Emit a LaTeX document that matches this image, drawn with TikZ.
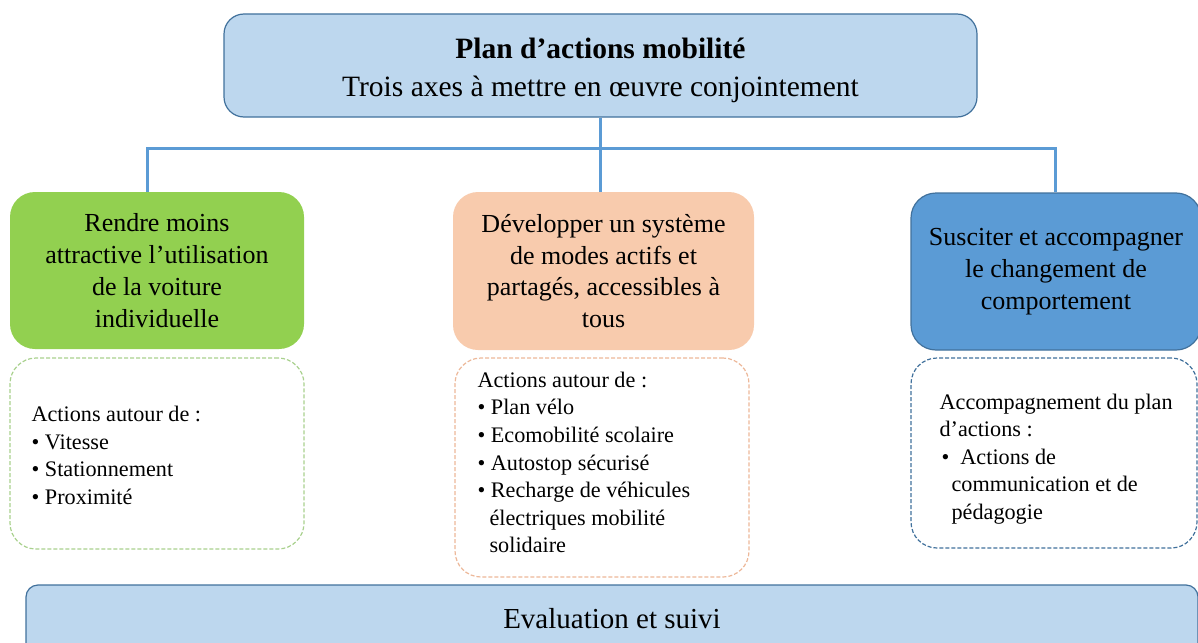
\documentclass[tikz,border=0pt]{standalone}
\usepackage{fontspec}
\setmainfont{Liberation Serif}
\definecolor{lightblue}{HTML}{BDD7EE}
\definecolor{darkblue}{HTML}{41719C}
\definecolor{midblue}{HTML}{5B9BD5}
\definecolor{grn}{HTML}{92D050}
\definecolor{grnline}{HTML}{A9D18E}
\definecolor{peach}{HTML}{F8CBAD}
\definecolor{peachline}{HTML}{EDB899}
\begin{document}
\begin{tikzpicture}[x=1pt,y=-1pt,
  topbox/.style={draw=darkblue, line width=1.2pt, fill=lightblue, rounded corners=20pt, align=center, inner sep=0pt},
  headbox/.style={rounded corners=25pt, align=center, inner sep=0pt, font=\fontsize{26}{31.8}\selectfont},
  dashbox/.style={line width=1.2pt, dash pattern=on 4pt off 2pt, rounded corners=26pt, fill=white, inner sep=0pt},
  listtext/.style={align=left, anchor=west, inner sep=0pt, font=\fontsize{22.2}{27.6}\selectfont},
  conn/.style={draw=midblue, line width=3pt}
]
\clip (0,0) rectangle (1198,642);
% top box
\node[topbox, minimum width=753pt, minimum height=103pt,
  font=\fontsize{29.5}{38}\selectfont] (top) at (600.5,65.5)
  {\rule{0pt}{30pt}\textbf{Plan d’actions mobilité}\\Trois axes à mettre en œuvre conjointement};
% heading boxes
\node[headbox, fill=grn, minimum width=294pt, minimum height=157pt] (g) at (157,270.5)
  {Rendre moins\\attractive l’utilisation\\de la voiture\\individuelle};
\node[headbox, fill=peach, minimum width=301pt, minimum height=158pt] (p) at (603.5,271)
  {Développer un système\\de modes actifs et\\partagés, accessibles à\\tous};
\node[headbox, fill=midblue, draw=darkblue, line width=1.2pt, minimum width=290pt, minimum height=157pt] (b) at (1056,271.5)
  {Susciter et accompagner\\le changement de\\comportement};
% connectors
\coordinate (bus) at (600,148);
\draw[conn] (top.south) -- (top.south |- bus);
\draw[conn] ([xshift=-10pt]g.north) |- (bus) -| ([xshift=-1pt]b.north);
\draw[conn] (bus) -- ([xshift=-3.5pt]p.north);
% dashed boxes
\node[dashbox, draw=grnline, minimum width=294pt, minimum height=191pt] (gd) at (157,453.5) {};
\node[dashbox, draw=peachline, minimum width=294pt, minimum height=219pt] (pd) at (602,467.5) {};
\node[dashbox, draw=darkblue, minimum width=286pt, minimum height=190pt] (bd) at (1054,453) {};
\node[listtext] (gt) at ([xshift=22pt,yshift=-2pt]gd.west)
  {Actions autour de :\\\textbullet\ Vitesse\\\textbullet\ Stationnement\\\textbullet\ Proximité};
\node[listtext] (pt) at ([xshift=23pt,yshift=5pt]pd.west)
  {Actions autour de :\\\textbullet\ Plan vélo\\\textbullet\ Ecomobilité scolaire\\\textbullet\ Autostop sécurisé\\\textbullet\ Recharge de véhicules\\\hspace*{12pt}électriques mobilité\\\hspace*{12pt}solidaire};
\node[listtext] (bt) at ([xshift=29pt,yshift=-6pt]bd.west)
  {Accompagnement du plan\\d’actions :\\\hspace*{2pt}\textbullet\ \ Actions de\\\hspace*{12pt}communication et de\\\hspace*{12pt}pédagogie};
% bottom box
\node[draw=darkblue, line width=1.2pt, fill=lightblue, rounded corners=12pt, inner sep=0pt,
  minimum width=1172pt, minimum height=70pt, font=\fontsize{29}{34}\selectfont] (ev) at (612,620)
  {\raisebox{3pt}{Evaluation et suivi}};
\end{tikzpicture}
\end{document}
